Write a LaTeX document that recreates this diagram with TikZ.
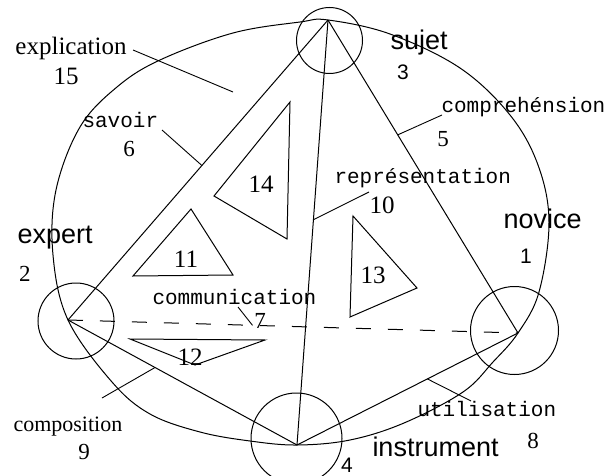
\documentclass[tikz,border=0pt]{standalone}
\usepackage{fontspec}
\setmainfont{Liberation Serif}
\setsansfont{Liberation Sans}
\setmonofont{Liberation Mono}
\usetikzlibrary{calc}

\begin{document}
\begin{tikzpicture}[x=1pt, y=-1pt, line width=1pt,
  pole/.style={draw, circle, inner sep=0pt},
  role/.style={inner sep=0pt, anchor=base west, font=\sffamily\fontsize{27}{27}\selectfont},
  rel/.style={inner sep=0pt, anchor=base west, font=\ttfamily\fontsize{21}{21}\selectfont},
  word/.style={inner sep=0pt, anchor=base west, font=\rmfamily\fontsize{25}{25}\selectfont},
  num/.style={inner sep=0pt, anchor=base, font=\rmfamily\fontsize{23}{23}\selectfont},
  bignum/.style={inner sep=0pt, anchor=base, font=\rmfamily\fontsize{25}{25}\selectfont},
  snum/.style={inner sep=0pt, anchor=base, font=\sffamily\fontsize{21}{21}\selectfont},
  lead/.style={line width=0.9pt},
  dash line/.style={dash pattern=on 15pt off 17pt}
]
\useasboundingbox (0,0) rectangle (608,476);

\coordinate (sujet)      at (328,20);
\coordinate (expert)     at (68,320);
\coordinate (novice)     at (518,333);
\coordinate (instrument) at (297,445);

\draw plot[smooth cycle, tension=0.6] coordinates {
  (328,20) (390,34) (460,68) (510,115) (538,165) (549,222) (539,292)
  (518,333) (493,362) (463,392) (404,423) (350,440) (297,445) (250,441)
  (200,432) (150,414) (112,382) (68,320) (53,255) (56,190) (80,127)
  (117,87) (160,60) (233,33) (300,22)};

\node[pole, minimum size=66pt] (csujet)      at (329.5,40.5) {};
\node[pole, minimum size=76pt] (cexpert)     at (76,321)     {};
\node[pole, minimum size=88pt] (cnovice)     at (514.5,330.5) {};
\node[pole, minimum size=91pt] (cinstrument) at (296.5,438.5) {};

\draw (sujet) -- (expert);
\draw (sujet) -- (novice);
\draw (sujet) -- (instrument);
\draw (expert) -- (instrument);
\draw (novice) -- (instrument);
\draw[dash line] (expert) -- (novice);

\draw (290,102) -- (214,196) -- (287,239) -- cycle;
\draw (191,209) -- (133,276) -- (233,275) -- cycle;
\draw (130,339) -- (265,340) -- (195,365) -- cycle;
\draw (353,216) -- (417,288) -- (350,317) -- cycle;

\node[bignum] (f14) at (261,193) {14};
\node[bignum] (f11) at (186,267) {11};
\node[bignum] (f13) at (373,283) {13};
\node[bignum] (f12) at (190,365) {12};

\node[word] (expl) at (15,55) {explication};
\node[bignum] (n15) at (66,85) {15};
\node[rel] (sav) at (82,128) {savoir};
\node[num] (n6) at (129,157) {6};
\node[role] (lsujet) at (390,50) {sujet};
\node[snum] (n3) at (403,80) {3};
\node[rel] (comp) at (441,113) {comprehénsion};
\node[num] (n5) at (443,147) {5};
\node[rel] (repr) at (334,183) {représentation};
\node[bignum] (n10) at (382,213) {10};
\node[role] (lexpert) at (17,243) {expert};
\node[num] (n2) at (25,281) {2};
\node[role] (lnovice) at (503,228) {novice};
\node[snum] (n1) at (526,263) {1};
\node[rel] (comm) at (152,304) {communication};
\node[num] (n7) at (260,328) {7};
\node[word, font=\rmfamily\fontsize{22}{22}\selectfont] (compo) at (13,431) {composition};
\node[num] (n9) at (84,459) {9};
\node[rel] (util) at (417,416) {utilisation};
\node[role] (linstrument) at (372,456) {instrument};
\node[num] (n8) at (533,448) {8};
\node[snum] (n4) at (347,472) {4};

\coordinate (explA) at (133,50);
\coordinate (explB) at (233,92);
\coordinate (savA) at (162,130);
\coordinate (compA) at (442,115);
\coordinate (reprA) at (369,192);
\coordinate (commA) at (238,307);
\coordinate (compoA) at (102,398);
\coordinate (utilA) at (471,401);

\draw[lead] (explA) -- (explB);
\draw[lead] (savA) -- ($(sujet)!0.485!(expert)$);
\draw[lead] (compA) -- ($(sujet)!0.367!(novice)$);
\draw[lead] (reprA) -- ($(sujet)!0.47!(instrument)$);
\draw[lead] (commA) -- ($(expert)!0.41!(novice)$);
\draw[lead] (compoA) -- ($(expert)!0.38!(instrument)$);
\draw[lead] (utilA) -- ($(novice)!0.41!(instrument)$);
\end{tikzpicture}
\end{document}
